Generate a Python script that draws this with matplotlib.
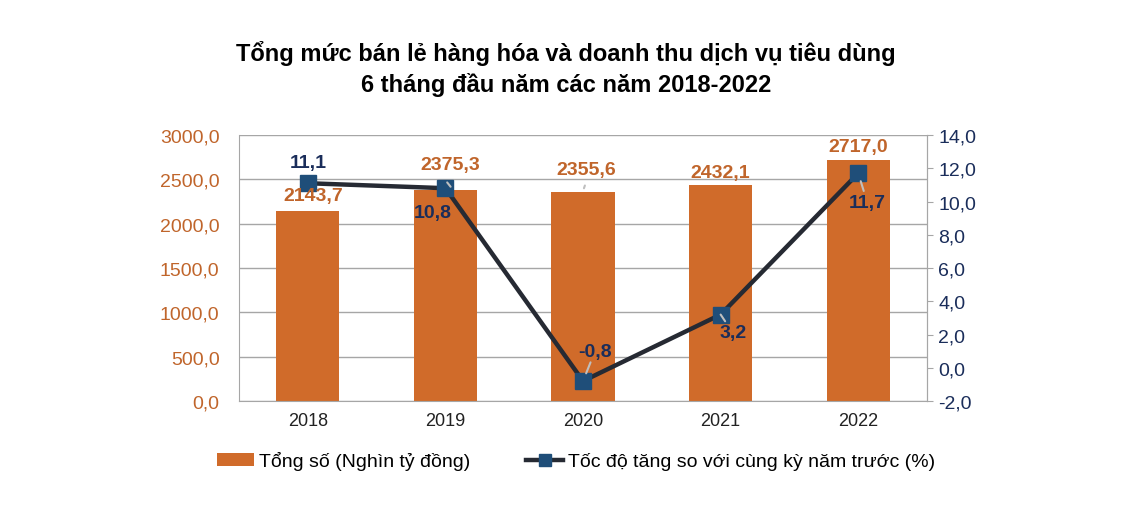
import matplotlib.pyplot as plt
from matplotlib.lines import Line2D
from matplotlib.patches import Patch
from matplotlib.ticker import FuncFormatter, MultipleLocator

plt.rcParams['font.family'] = ['Liberation Sans', 'DejaVu Sans']

years = ['2018', '2019', '2020', '2021', '2022']
total = [2143.7, 2375.3, 2355.6, 2432.1, 2717.0]
growth = [11.1, 10.8, -0.8, 3.2, 11.7]

bar_color = '#D06B2A'
orange_txt = '#C0652B'
navy = '#1A2D5A'
line_color = '#262A33'
marker_color = '#1F4E79'
grid_color = '#A6A6A6'


def vn(v, pos=None):
    return f'{v:.1f}'.replace('.', ',')


fig = plt.figure(figsize=(11.34, 5.06), dpi=100)
ax = fig.add_axes([0.2108, 0.2055, 0.6067, 0.5257])
x = list(range(len(years)))

ax.bar(x, total, width=0.46, color=bar_color, zorder=2)
ax.set_xlim(-0.5, 4.5)
ax.set_ylim(0, 3000)
ax.yaxis.set_major_locator(MultipleLocator(500))
ax.yaxis.set_major_formatter(FuncFormatter(vn))
ax.grid(axis='y', color=grid_color, linewidth=1, zorder=0)
ax.set_axisbelow(True)
ax.set_xticks(x)
ax.set_xticklabels(years)
ax.tick_params(axis='x', length=0, labelsize=13, pad=8, colors='#222222')
ax.tick_params(axis='y', length=0, labelsize=14, colors=orange_txt, pad=14)
for side in ['left', 'right', 'bottom']:
    ax.spines[side].set_color(grid_color)
ax.spines['top'].set_visible(False)

ax2 = ax.twinx()
ax2.plot(x, growth, color=line_color, linewidth=3.2, marker='s', markersize=11,
         markerfacecolor=marker_color, markeredgecolor=marker_color, zorder=3)
ax2.set_ylim(-2, 14)
ax2.yaxis.set_major_locator(MultipleLocator(2))
ax2.yaxis.set_major_formatter(FuncFormatter(vn))
ax2.tick_params(axis='y', length=4, labelsize=14, colors=navy, pad=4)
ax2.tick_params(axis='y', color=grid_color)
for side in ['top', 'left', 'bottom']:
    ax2.spines[side].set_visible(False)
ax2.spines['right'].set_color(grid_color)

lead = dict(arrowstyle='-', color='#BFBFBF', lw=1.5, shrinkA=0, shrinkB=6)

# bar labels (drawn on ax2 so they sit above the line): pixel offsets from bar top
bar_offsets = [(5, 15), (5, 26), (3, 23), (0, 13), (0, 14)]
for i, (v, off) in enumerate(zip(total, bar_offsets)):
    ax2.annotate(vn(v), (i, v), xycoords=ax.transData, xytext=off,
                 textcoords='offset pixels', ha='center', va='center',
                 fontsize=14, fontweight='bold', color=orange_txt, zorder=5)

# leader lines from bar labels
ax2.annotate('', (1.05, 2392), xycoords=ax.transData, xytext=(1.0, 2490),
             textcoords=ax.transData,
             arrowprops=dict(arrowstyle='-', color='#BFBFBF', lw=1.5))
ax2.annotate('', (2.0, 2370), xycoords=ax.transData, xytext=(2.02, 2460),
             textcoords=ax.transData,
             arrowprops=dict(arrowstyle='-', color='#BFBFBF', lw=1.5))

# line labels: pixel offsets from marker
line_offsets = [(0, 21), (-13, -24), (12, 30), (12, -18), (9, -29)]
line_leads = [False, False, True, True, True]
for i, (v, off, ld) in enumerate(zip(growth, line_offsets, line_leads)):
    ax2.annotate(vn(v), (i, v), xytext=off, textcoords='offset pixels',
                 ha='center', va='center', fontsize=14, fontweight='bold',
                 color=navy, zorder=5,
                 arrowprops=lead if ld else None)

fig.suptitle('Tổng mức bán lẻ hàng hóa và doanh thu dịch vụ tiêu dùng\n'
             '6 tháng đầu năm các năm 2018-2022',
             x=0.499, y=0.918, fontsize=17, fontweight='bold', linespacing=1.33)

handles = [Patch(facecolor=bar_color, edgecolor='none'),
           Line2D([0], [0], color=line_color, linewidth=3.2, marker='s',
                  markersize=9, markerfacecolor=marker_color,
                  markeredgecolor=marker_color)]
labels = ['Tổng số (Nghìn tỷ đồng)', 'Tốc độ tăng so với cùng kỳ năm trước (%)']
fig.legend(handles, labels, loc='center', bbox_to_anchor=(0.508, 0.087),
           ncol=2, frameon=False, fontsize=14, handlelength=1.9,
           handletextpad=0.25, columnspacing=2.9)

fig.savefig('out.png', dpi=100)
